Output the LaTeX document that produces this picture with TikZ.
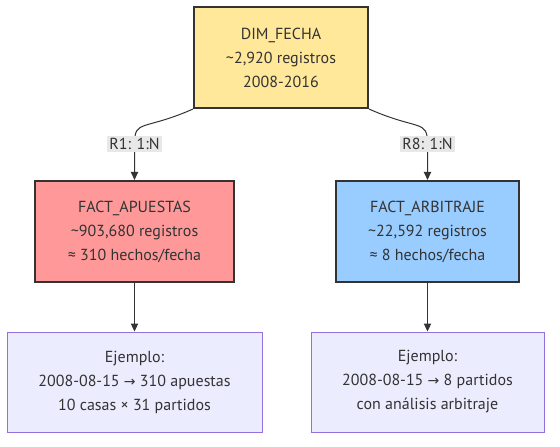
\documentclass[tikz,border=0pt]{standalone}
\usepackage{fontspec}
\setmainfont{PT Sans}
\newfontfamily\symfont{DejaVu Sans}
\newcommand{\myarr}{{\symfont\fontsize{10.5}{18}\selectfont →}}
\usetikzlibrary{arrows.meta}
\definecolor{txt}{HTML}{333333}
\definecolor{topfill}{HTML}{FFE89A}
\definecolor{redfill}{HTML}{FF9999}
\definecolor{bluefill}{HTML}{99CCFF}
\definecolor{exfill}{HTML}{ECECFF}
\definecolor{exline}{HTML}{9370DB}
\definecolor{lblfill}{HTML}{E8E8E8}
\tikzset{
  mainbox/.style={draw=txt, line width=1.6pt, text=txt, minimum height=75.75pt, align=center, font=\fontsize{12}{18}\selectfont, inner sep=0pt},
  exbox/.style={draw=exline, fill=exfill, line width=0.75pt, text=txt, minimum height=75pt, align=center, font=\fontsize{12}{18}\selectfont, inner sep=0pt},
  lbl/.style={fill=lblfill, text=txt, font=\fontsize{12}{14}\selectfont, inner sep=2pt},
  edge/.style={draw=txt, line width=0.75pt, -{Triangle[length=6pt,width=5.5pt]}},
}
\begin{document}
\begin{tikzpicture}[x=0.75pt,y=-0.75pt]
\useasboundingbox (0,0) rectangle (560,446);
\node[mainbox, fill=topfill, minimum width=130.5pt] (top) at (281,57.5) {DIM\_FECHA\\\textasciitilde2,920 registros\\2008-2016};
\node[mainbox, fill=redfill, minimum width=149.25pt] (left) at (134.5,231.5) {FACT\_APUESTAS\\\textasciitilde903,680 registros\\≈ 310 hechos/fecha};
\node[mainbox, fill=bluefill, minimum width=137.25pt] (right) at (427.5,231.5) {FACT\_ARBITRAJE\\\textasciitilde22,592 registros\\≈ 8 hechos/fecha};
\node[exbox, minimum width=191.25pt] (ex1) at (134.5,382) {Ejemplo:\\2008-08-15 \myarr{} 310 apuestas\\10 casas × 31 partidos};
\node[exbox, minimum width=174.75pt] (ex2) at (427.5,382) {Ejemplo:\\2008-08-15 \myarr{} 8 partidos\\con análisis arbitraje};
\coordinate (c1) at (134.5,144);
\coordinate (c2) at (427.5,144);
\draw[edge] (top.south west) .. controls +(-50,22) and +(0,-25) .. (c1) -- (left.north);
\draw[edge] (top.south east) .. controls +(50,22) and +(0,-25) .. (c2) -- (right.north);
\node[lbl] (l1) at (c1) {R1: 1:N};
\node[lbl] (l2) at (c2) {R8: 1:N};
\draw[edge] (left.south) -- (ex1.north);
\draw[edge] (right.south) -- (ex2.north);
\end{tikzpicture}
\end{document}
